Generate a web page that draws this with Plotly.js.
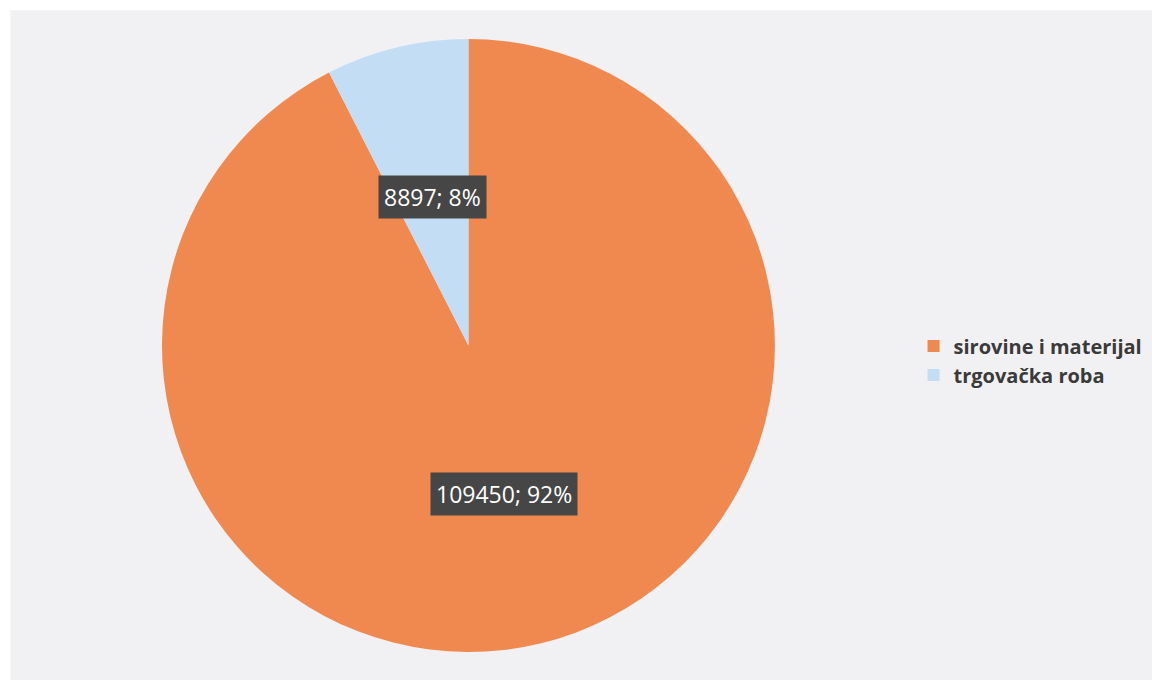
<!DOCTYPE html>
<html>
<head>
<meta charset="utf-8">
<script src="https://cdn.plot.ly/plotly-3.0.1.min.js"></script>
<style>html,body{margin:0;padding:0;background:#fff;}#chart{width:1152px;height:680px;}</style>
</head>
<body>
<div id="chart"></div>
<script>
const categories = ['sirovine i materijal', 'trgovačka roba'];
const values = [109450, 8897];
const percents = [92, 8];
const colors = ['#F0894F', '#C3DEF4'];
const labelRadius = [0.50, 0.50];

const domX = [0.1406, 0.6727];
const domY = [0.0412, 0.9426];
const W = 1152, H = 680;

const total = values.reduce((a, b) => a + b, 0);
const cx = (domX[0] + domX[1]) / 2 * W;
const cy = (1 - (domY[0] + domY[1]) / 2) * H;
const R = (domY[1] - domY[0]) * H / 2;

let start = 0;
const annotations = values.map((v, i) => {
  const frac = v / total;
  const mid = (start + frac / 2) * 2 * Math.PI;
  start += frac;
  const r = R * labelRadius[i];
  const px = cx + r * Math.sin(mid);
  const py = cy - r * Math.cos(mid);
  return {
    x: px / W, y: 1 - py / H, xref: 'paper', yref: 'paper',
    text: v + '; ' + percents[i] + '%',
    showarrow: false,
    font: {family: 'Open Sans, sans-serif', size: 23, color: '#ffffff'},
    bgcolor: '#464646',
    borderpad: 5,
    xanchor: 'center', yanchor: 'middle'
  };
});

const trace = {
  type: 'pie',
  labels: categories,
  values: values,
  sort: false,
  direction: 'clockwise',
  rotation: 0,
  marker: {colors: colors, line: {width: 0}},
  textinfo: 'none',
  hoverinfo: 'skip',
  domain: {x: domX, y: domY}
};

const layout = {
  width: W, height: H,
  margin: {l: 0, r: 0, t: 0, b: 0},
  paper_bgcolor: '#f1f1f4',
  showlegend: true,
  legend: {
    x: 0.793, y: 0.47, xanchor: 'left', yanchor: 'middle',
    font: {family: 'Open Sans, sans-serif', size: 20, color: '#3a3a3a', weight: 'bold'},
    bgcolor: 'rgba(0,0,0,0)',
    itemwidth: 30,
    tracegroupgap: 0
  },
  annotations: annotations,
  shapes: [
    {type: 'rect', xref: 'paper', yref: 'paper', x0: 0, x1: 0.009, y0: 0, y1: 1, fillcolor: '#ffffff', line: {width: 0}, layer: 'below'},
    {type: 'rect', xref: 'paper', yref: 'paper', x0: 0, x1: 1, y0: 0.985, y1: 1, fillcolor: '#ffffff', line: {width: 0}, layer: 'below'}
  ]
};

Plotly.newPlot('chart', [trace], layout, {displayModeBar: false, staticPlot: true});
</script>
</body>
</html>
